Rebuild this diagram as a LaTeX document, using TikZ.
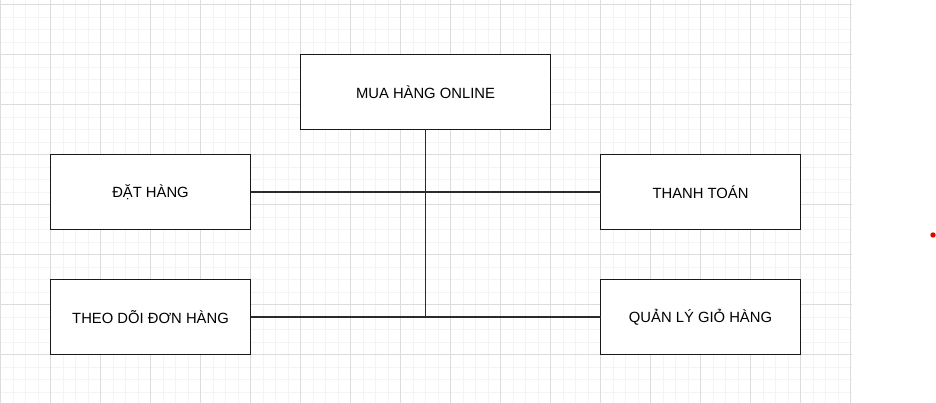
\documentclass[tikz,border=0pt]{standalone}
\usepackage{fontspec}
\setmainfont{Liberation Sans}
\definecolor{gridminor}{HTML}{F4F4F4}
\definecolor{gridmajor}{HTML}{DCDCDC}
\definecolor{linkgray}{HTML}{2B2B2B}
\begin{document}
\begin{tikzpicture}[x=1pt,y=-1pt,
  main node/.style={rectangle,draw=black!90,line width=1.2pt,fill=white,minimum width=200pt,minimum height=75pt,inner sep=0pt,outer sep=0pt,font=\fontsize{14.8}{18}\selectfont},
  link/.style={draw=linkgray,line width=1.2pt}]
\useasboundingbox (0,0) rectangle (936,403);
\fill [white] (0,0) rectangle (936,403);
\foreach \k in {0,...,68} \draw [gridminor,line width=0.8pt] (0.5+12.5*\k,0) -- (0.5+12.5*\k,403);
\foreach \k in {0,...,31} \draw [gridminor,line width=0.8pt] (0,4.5+12.5*\k) -- (852,4.5+12.5*\k);
\foreach \k in {0,...,17} \draw [gridmajor,line width=0.8pt] (0.5+50*\k,0) -- (0.5+50*\k,403);
\foreach \k in {0,...,7} \draw [gridmajor,line width=0.8pt] (0,4.5+50*\k) -- (852,4.5+50*\k);
\node [main node,minimum width=250pt] (mua) at (425.5,92) {MUA HÀNG ONLINE};
\node [main node] (dat) at (150.5,192) {ĐẶT HÀNG};
\node [main node] (thanh) at (700.5,192) {THANH TOÁN};
\node [main node] (theo) at (150.5,317) {THEO DÕI ĐƠN HÀNG};
\node [main node] (quan) at (700.5,317) {QUẢN LÝ GIỎ HÀNG};
\draw [link] (dat.east) -- (thanh.west);
\draw [link] (theo.east) -- (quan.west);
\draw [link] (mua.south) -- (mua.south |- theo.east);
\fill [red!90!black] (933,235) circle (2.7);
\end{tikzpicture}
\end{document}
